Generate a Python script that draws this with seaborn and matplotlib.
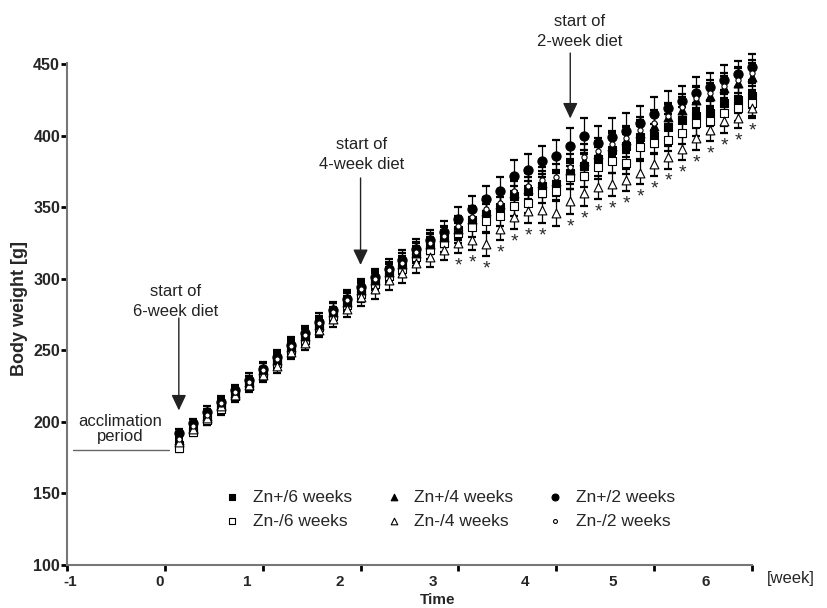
import matplotlib
matplotlib.use("Agg")
import matplotlib.pyplot as plt
import pandas as pd
import seaborn as sns

# body weight [g] per day of the experiment (day 1 .. 42)
days = list(range(1, 43))

zn_plus_6 = [184, 194, 202, 211, 219, 226, 234, 242, 251, 258, 267, 275, 283, 291, 298, 304, 309, 317, 323, 328,
             334, 341, 345, 350, 358, 361, 365, 366, 374, 379, 384, 390, 393, 399, 400, 406, 411, 414, 416, 423, 425, 428]
zn_minus_6 = [182, 193, 201, 209, 218, 225, 233, 241, 250, 257, 266, 274, 282, 289, 296, 302, 307, 315, 320, 325,
              332, 336, 340, 344, 351, 353, 360, 361, 371, 372, 378, 382, 381, 392, 395, 397, 402, 409, 410, 416, 419, 423]
zn_plus_4 = [187, 196, 204, 212, 220, 228, 236, 243, 252, 260, 268, 277, 284, 292, 299, 305, 310, 318, 324, 329,
             335, 342, 347, 352, 360, 363, 367, 368, 376, 382, 387, 393, 397, 402, 407, 413, 418, 425, 428, 433, 437, 441]
zn_minus_4 = [186, 195, 203, 211, 219, 226, 233, 239, 249, 255, 264, 272, 279, 287, 293, 299, 304, 311, 315, 320,
              325, 327, 324, 335, 343, 347, 348, 346, 354, 360, 364, 366, 369, 374, 380, 385, 391, 398, 404, 410, 412, 419]
zn_plus_2 = [192, 199, 207, 214, 222, 229, 237, 245, 254, 262, 270, 278, 286, 294, 301, 307, 313, 321, 327, 333,
             342, 349, 356, 361, 372, 376, 382, 386, 393, 400, 395, 399, 403, 409, 415, 419, 424, 430, 434, 439, 443, 448]
zn_minus_2 = [188, 197, 205, 213, 221, 228, 236, 244, 253, 261, 269, 277, 285, 293, 300, 306, 311, 319, 325, 330,
              337, 343, 349, 353, 361, 365, 369, 371, 378, 385, 389, 394, 398, 404, 409, 414, 420, 426, 430, 435, 439, 444]

sd_plus_6 = [3, 3, 4, 4, 4, 4, 4, 5, 5, 5, 5, 5, 5, 6, 6, 6, 6, 6, 6, 6,
             7, 7, 7, 7, 7, 7, 8, 8, 8, 8, 8, 8, 8, 8, 8, 9, 9, 9, 9, 9, 9, 9]
sd_minus_6 = [3, 3, 3, 4, 4, 4, 4, 4, 5, 5, 5, 5, 5, 5, 6, 6, 6, 6, 6, 6,
              7, 7, 7, 7, 7, 7, 7, 7, 8, 8, 8, 8, 8, 8, 8, 8, 8, 9, 9, 9, 9, 9]
sd_plus_4 = [3, 3, 4, 4, 4, 4, 5, 5, 5, 5, 5, 6, 6, 6, 6, 6, 6, 7, 7, 7,
             7, 7, 7, 8, 8, 8, 8, 8, 8, 8, 9, 9, 9, 9, 9, 9, 9, 9, 9, 9, 10, 10]
sd_minus_4 = [3, 3, 4, 4, 4, 4, 5, 5, 5, 5, 5, 6, 6, 6, 7, 7, 7, 7, 7, 7,
              7, 7, 8, 8, 8, 8, 9, 9, 9, 9, 8, 8, 8, 8, 8, 8, 8, 8, 8, 8, 7, 7]
sd_plus_2 = [3, 3, 4, 4, 4, 5, 5, 5, 5, 5, 6, 6, 6, 6, 6, 7, 7, 7, 7, 7,
             8, 9, 9, 10, 11, 11, 11, 11, 12, 12, 12, 13, 13, 12, 12, 12, 11, 11, 10, 10, 9, 9]
sd_minus_2 = [3, 3, 4, 4, 4, 4, 5, 5, 5, 5, 5, 6, 6, 6, 6, 6, 7, 7, 7, 7,
              7, 8, 8, 8, 8, 9, 9, 9, 9, 9, 9, 9, 9, 9, 9, 9, 9, 9, 9, 9, 9, 9]

# days with a significant difference (Zn-/4 weeks)
star_days = [21, 22, 23, 24, 25, 26, 27, 29, 30, 31, 32, 33, 34, 35, 36, 37, 38, 39, 40, 41, 42]

groups = ["Zn+/6 weeks", "Zn-/6 weeks", "Zn+/4 weeks", "Zn-/4 weeks", "Zn+/2 weeks", "Zn-/2 weeks"]
means = [zn_plus_6, zn_minus_6, zn_plus_4, zn_minus_4, zn_plus_2, zn_minus_2]
sds = [sd_plus_6, sd_minus_6, sd_plus_4, sd_minus_4, sd_plus_2, sd_minus_2]

week_labels = ["-1", "0", "1", "2", "3", "4", "5", "6"]

frames = []
for g, m, s in zip(groups, means, sds):
    frames.append(pd.DataFrame({"day": days, "weight": m, "sd": s, "group": g}))
df = pd.concat(frames, ignore_index=True)

styles = {
    "Zn+/6 weeks": dict(marker="s", fc="black", s=34),
    "Zn-/6 weeks": dict(marker="s", fc="white", s=34),
    "Zn+/4 weeks": dict(marker="^", fc="black", s=40),
    "Zn-/4 weeks": dict(marker="^", fc="white", s=40),
    "Zn+/2 weeks": dict(marker="o", fc="black", s=44),
    "Zn-/2 weeks": dict(marker="o", fc="white", s=14),
}

sns.set_style("ticks")
plt.rcParams["font.family"] = ["Liberation Sans", "DejaVu Sans"]

fig = plt.figure(figsize=(8.28, 6.08), dpi=100)
ax = fig.add_axes([0.0809, 0.0707, 0.8273, 0.8263])

for g in groups:
    sub = df[df["group"] == g]
    st = styles[g]
    ax.errorbar(sub["day"], sub["weight"], yerr=sub["sd"], fmt="none", ecolor="black",
                elinewidth=0.9, capsize=2.8, capthick=1.6, clip_on=False, zorder=2)
    sns.scatterplot(data=sub, x="day", y="weight", marker=st["marker"], s=st["s"],
                    color=st["fc"], edgecolor="black", linewidth=0.8, ax=ax,
                    label=g, clip_on=False, zorder=3)

# significance stars below the Zn-/4 weeks bars
tri = df[df["group"] == "Zn-/4 weeks"].set_index("day")
for d in star_days:
    y = tri.loc[d, "weight"] - tri.loc[d, "sd"] - 9
    ax.text(d, y, "*", ha="center", va="center", fontsize=14, color="#2a2a2a")

# axes
ax.set_xlim(-7, 42)
ax.set_ylim(100, 451)
ax.set_xticks(range(-7, 43, 7))
ax.set_xticklabels([])
label_pos = [-6.8, -0.36, 5.87, 12.5, 19.2, 25.75, 32.05, 38.7]
ax.set_xticks(label_pos, minor=True)
ax.set_xticklabels(week_labels, minor=True, fontweight="bold", fontsize=11)
ax.tick_params(axis="x", which="minor", length=0, pad=7)
ax.tick_params(axis="x", which="major", length=4, width=2, color="black")
ax.set_yticks(range(100, 451, 50))
ax.tick_params(axis="y", length=4, width=2, pad=1, labelsize=11.5, color="black")
for lab in ax.get_yticklabels():
    lab.set_fontweight("bold")
ax.set_xlabel("")
ax.set_ylabel("")
sns.despine(ax=ax)
for side in ["left", "bottom"]:
    ax.spines[side].set_color("#777777")
    ax.spines[side].set_linewidth(1.5)

fig.text(0.024, 0.493, "Body weight [g]", rotation=90, ha="center", va="center",
         fontsize=13, fontweight="bold")
fig.text(0.528, 0.013, "Time", ha="center", va="center", fontsize=11, fontweight="bold")
fig.text(0.955, 0.049, "[week]", ha="center", va="center", fontsize=12)

# acclimation period
ax.plot([-6.6, 0.3], [180.5, 180.5], color="#666666", lw=1, clip_on=False)
ax.text(-3.2, 195, "acclimation\nperiod", ha="center", va="center", fontsize=12,
        linespacing=1.0, color="#222222")

arrow = dict(arrowstyle="-|>,head_length=0.95,head_width=0.45", mutation_scale=10,
             color="#222222", lw=1, shrinkA=0, shrinkB=0)
notes = [("start of\n6-week diet", 0.8, 284, 1, 272.6, 208),
         ("start of\n4-week diet", 14.1, 387, 14, 370.4, 309.6),
         ("start of\n2-week diet", 29.7, 473, 29, 457.7, 412)]
for txt, tx, ty, ax_x, y0, y1 in notes:
    ax.text(tx, ty, txt, ha="center", va="center", fontsize=12, linespacing=1.4,
            color="#222222")
    ax.annotate("", xy=(ax_x, y1), xytext=(ax_x, y0), arrowprops=arrow,
                annotation_clip=False)

handles, labels = ax.get_legend_handles_labels()
ax.legend(handles, labels, ncol=3, loc="center", bbox_to_anchor=(0.558, 0.111),
          frameon=False, fontsize=12.5, markerscale=0.75, handlelength=1.0,
          handletextpad=0.7, columnspacing=1.9, labelspacing=0.5)

fig.savefig("out.png", dpi=100)
